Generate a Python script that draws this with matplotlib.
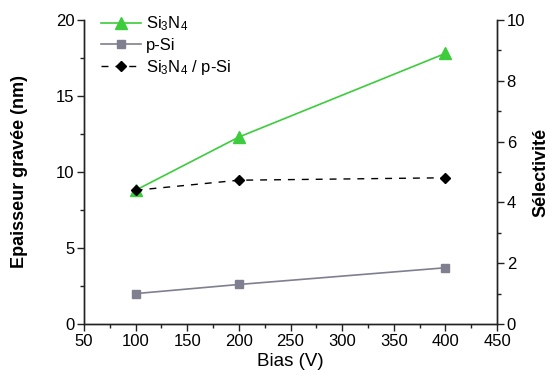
import matplotlib
matplotlib.use("Agg")
import matplotlib.pyplot as plt
from matplotlib.ticker import MultipleLocator

plt.rcParams['font.family'] = ['Liberation Sans', 'DejaVu Sans']
plt.rcParams['mathtext.fontset'] = 'custom'
plt.rcParams['mathtext.rm'] = 'Liberation Sans'
plt.rcParams['mathtext.it'] = 'Liberation Sans:italic'

bias = [100, 200, 400]
si3n4 = [8.8, 12.3, 17.8]
psi = [2.0, 2.6, 3.7]
selectivity = [4.4, 4.73, 4.81]

fig = plt.figure(figsize=(5.58, 3.83), dpi=100)
ax = fig.add_axes([84/558, 1-324/383, (497-84)/558, (324-20)/383])
ax2 = ax.twinx()

l1, = ax.plot(bias, si3n4, color='#3ccc3c', marker='^', markersize=8, lw=1.2,
              label=r'Si$_3$N$_4$')
l2, = ax.plot(bias, psi, color='#7f7f8f', marker='s', markersize=5.5, lw=1.2,
              label='p-Si')
l3, = ax2.plot(bias, selectivity, color='black', marker='D', markersize=5, lw=1.0,
               ls=(0, (5, 5)), label=r'Si$_3$N$_4$ / p-Si')

ax.set_xlim(50, 450)
ax.set_ylim(0, 20)
ax2.set_ylim(0, 10)
ax.xaxis.set_major_locator(MultipleLocator(50))
ax.xaxis.set_minor_locator(MultipleLocator(25))
ax.yaxis.set_major_locator(MultipleLocator(5))
ax.yaxis.set_minor_locator(MultipleLocator(2.5))
ax2.yaxis.set_major_locator(MultipleLocator(2))
ax2.yaxis.set_minor_locator(MultipleLocator(1))

for a in (ax, ax2):
    a.spines['top'].set_visible(False)
    for s in a.spines.values():
        s.set_linewidth(1.0)
        s.set_color('#222222')
    a.tick_params(which='major', direction='out', length=5, width=1.0, labelsize=12,
                  color='#222222', pad=2)
    a.tick_params(which='minor', direction='out', length=3, width=1.0, color='#222222')

ax.set_xlabel('Bias (V)', fontsize=13.5, labelpad=3)
ax.set_ylabel('Epaisseur gravée (nm)', fontsize=13, fontweight='bold', labelpad=20)
ax2.set_ylabel('Sélectivité', fontsize=13, fontweight='bold', labelpad=5)

leg = ax.legend(handles=[l1, l2, l3], loc='upper left', frameon=False, fontsize=12,
                handlelength=2.4, handletextpad=0.3, labelspacing=0.3,
                borderaxespad=0.0, bbox_to_anchor=(0.025, 1.04))

fig.savefig('out.png', dpi=100)
